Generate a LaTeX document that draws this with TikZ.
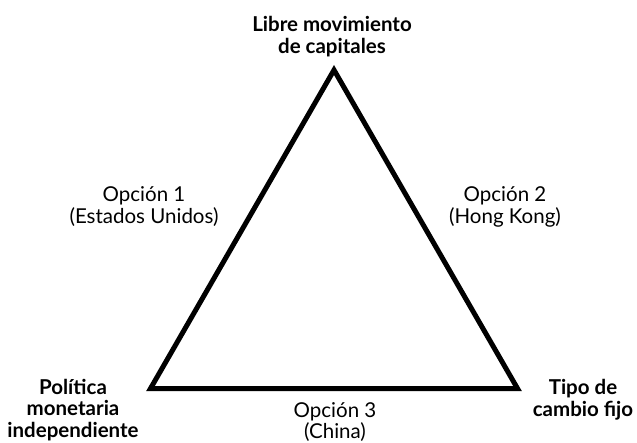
\documentclass[tikz,border=0pt]{standalone}
\usepackage{fontspec}
\setmainfont{Lato}
\begin{document}
\begin{tikzpicture}[x=1pt,y=-1pt,
  vlabel/.style={font=\fontsize{20.5}{21.5}\selectfont\bfseries, align=center, inner sep=0pt},
  olabel/.style={font=\fontsize{20.5}{22}\selectfont, align=center, inner sep=0pt},
  edge/.style={line width=5pt, line join=miter}]
\useasboundingbox (0,0) rectangle (637,442);
\coordinate (T) at (334,70);
\coordinate (L) at (150.5,388.5);
\coordinate (R) at (517.5,388.5);
\draw[edge] (T) -- (L) -- (R) -- cycle;
\node[vlabel] (top) at (332,36.5) {Libre movimiento\\de capitales};
\node[vlabel] (left) at (73,410) {Política\\monetaria\\independiente};
\node[vlabel] (right) at (583,399.5) {Tipo de\\cambio fijo};
\node[olabel] (o1) at (144,207) {Opción 1\\(Estados Unidos)};
\node[olabel] (o2) at (505,207) {Opción 2\\(Hong Kong)};
\node[olabel, font=\fontsize{20.5}{19}\selectfont] (o3) at (335,422) {Opción 3\\(China)};
\end{tikzpicture}
\end{document}
